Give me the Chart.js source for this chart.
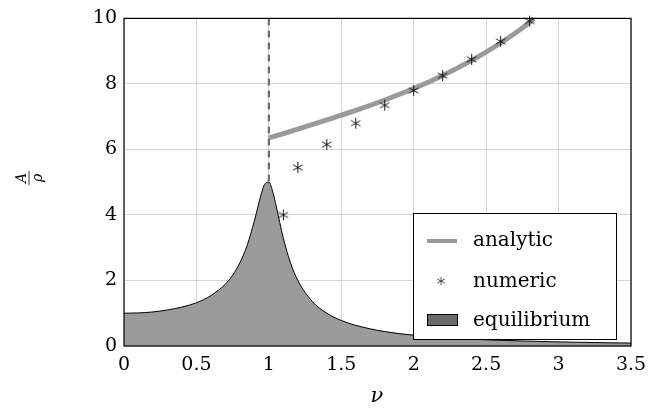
<!DOCTYPE html>
<html>
<head>
<meta charset="utf-8">
<script src="https://cdn.jsdelivr.net/npm/chart.js@4"></script>
<style>
  body { margin: 0; background: #fff; }
  #wrap { width: 669px; height: 413px; }
</style>
</head>
<body>
<div id="wrap"><canvas id="chart" width="669" height="413"></canvas></div>
<script>
// equilibrium curve
var eq_nu = [0, 0.1, 0.2, 0.3, 0.4, 0.5, 0.6, 0.7, 0.75, 0.8, 0.85, 0.9, 0.95, 0.97, 1.0,
  1.03, 1.05, 1.1, 1.15, 1.2, 1.3, 1.4, 1.5, 1.6, 1.8, 2.0, 2.25, 2.5, 3.0, 3.5];
var eq_a = [1.0, 1.01, 1.04, 1.10, 1.19, 1.32, 1.54, 1.89, 2.16, 2.54, 3.07, 3.82, 4.68, 4.93, 5.0,
  4.66, 4.28, 3.29, 2.53, 2.0, 1.36, 1.0, 0.78, 0.63, 0.44, 0.33, 0.245, 0.19, 0.125, 0.089];

// analytic branch
var an_nu = [1.0, 1.2, 1.4, 1.6, 1.8, 2.0, 2.2, 2.4, 2.6, 2.8, 2.83];
var an_a = [6.35, 6.62, 6.9, 7.19, 7.51, 7.86, 8.26, 8.72, 9.25, 9.88, 10.0];

// numeric points
var num_nu = [1.1, 1.2, 1.4, 1.6, 1.8, 2.0, 2.2, 2.4, 2.6, 2.8];
var num_a = [4.0, 5.45, 6.15, 6.8, 7.35, 7.8, 8.25, 8.75, 9.3, 9.92];

var xTicks = [0, 0.5, 1, 1.5, 2, 2.5, 3, 3.5];
var yTicks = [0, 2, 4, 6, 8, 10];

var FONT = '"DejaVu Serif", "Liberation Serif", serif';

function pts(xs, ys) {
  return xs.map(function (x, i) { return { x: x, y: ys[i] }; });
}

// six-armed asterisk marker
function makeStar(size) {
  var c = document.createElement('canvas');
  c.width = size; c.height = size;
  var g = c.getContext('2d');
  g.strokeStyle = '#000';
  g.lineWidth = 0.9;
  var r = size / 2 - 1;
  g.beginPath();
  for (var k = 0; k < 3; k++) {
    var a = Math.PI / 2 + k * Math.PI / 3;
    g.moveTo(size / 2 + r * Math.cos(a), size / 2 + r * Math.sin(a));
    g.lineTo(size / 2 - r * Math.cos(a), size / 2 - r * Math.sin(a));
  }
  g.stroke();
  return c;
}
var star = makeStar(13);

var extras = {
  id: 'extras',
  beforeDatasetsDraw: function (chart) {
    var ctx = chart.ctx, x = chart.scales.x, y = chart.scales.y;
    // dashed line at nu = 1
    ctx.save();
    ctx.strokeStyle = '#6e6e6e';
    ctx.lineWidth = 2.2;
    ctx.setLineDash([7, 5]);
    ctx.beginPath();
    ctx.moveTo(x.getPixelForValue(1), y.getPixelForValue(10));
    ctx.lineTo(x.getPixelForValue(1), y.getPixelForValue(0));
    ctx.stroke();
    ctx.restore();
  },
  afterDraw: function (chart) {
    var ctx = chart.ctx, a = chart.chartArea;
    ctx.save();
    // frame
    ctx.strokeStyle = '#000';
    ctx.lineWidth = 1.2;
    ctx.strokeRect(a.left, a.top, a.right - a.left, a.bottom - a.top);

    // legend
    var lx = 413, ly = 213, lw = 203, lh = 126;
    ctx.fillStyle = '#fff';
    ctx.fillRect(lx, ly, lw, lh);
    ctx.strokeStyle = '#000';
    ctx.lineWidth = 1;
    ctx.strokeRect(lx + 0.5, ly + 0.5, lw, lh);
    ctx.font = '20px ' + FONT;
    ctx.fillStyle = '#000';
    ctx.textBaseline = 'middle';
    ctx.fillText('analytic', lx + 60, ly + 28);
    ctx.fillText('numeric', lx + 60, ly + 69);
    ctx.fillText('equilibrium', lx + 60, ly + 108);
    ctx.strokeStyle = '#9a9a9a';
    ctx.lineWidth = 4;
    ctx.beginPath();
    ctx.moveTo(lx + 14, ly + 28);
    ctx.lineTo(lx + 44, ly + 28);
    ctx.stroke();
    ctx.drawImage(star, lx + 23, ly + 63, 10, 10);
    ctx.fillStyle = '#6a6a6a';
    ctx.fillRect(lx + 14, ly + 101, 30, 11);
    ctx.strokeStyle = '#000';
    ctx.lineWidth = 1;
    ctx.strokeRect(lx + 14.5, ly + 101.5, 30, 11);

    // axis titles
    ctx.fillStyle = '#000';
    ctx.textAlign = 'center';
    ctx.font = 'italic 21px ' + FONT;
    ctx.fillText('\u03bd', 377, 397);

    ctx.translate(30, 178);
    ctx.rotate(-Math.PI / 2);
    ctx.font = 'italic 14px ' + FONT;
    ctx.textBaseline = 'alphabetic';
    ctx.fillText('A', 0, -4);
    ctx.textBaseline = 'top';
    ctx.fillText('\u03c1', 0, 1);
    ctx.lineWidth = 0.8;
    ctx.beginPath();
    ctx.moveTo(-7, -1);
    ctx.lineTo(7, -1);
    ctx.stroke();
    ctx.restore();
  }
};

var ctxEl = document.getElementById('chart');
new Chart(ctxEl, {
  type: 'line',
  data: {
    datasets: [
      {
        label: 'numeric',
        data: pts(num_nu, num_a),
        showLine: false,
        pointStyle: star,
        pointRadius: 6,
        order: 0
      },
      {
        label: 'analytic',
        data: pts(an_nu, an_a),
        borderColor: '#9a9a9a',
        borderWidth: 5,
        pointRadius: 0,
        cubicInterpolationMode: 'monotone',
        fill: false,
        order: 1
      },
      {
        label: 'equilibrium',
        data: pts(eq_nu, eq_a),
        borderColor: '#000',
        borderWidth: 1,
        backgroundColor: '#9b9b9b',
        pointRadius: 0,
        cubicInterpolationMode: 'monotone',
        fill: 'origin',
        order: 2
      }
    ]
  },
  options: {
    responsive: false,
    animation: false,
    clip: false,
    layout: { padding: { left: 0, top: 13, right: 38, bottom: 0 } },
    plugins: { legend: { display: false }, tooltip: { enabled: false } },
    scales: {
      x: {
        type: 'linear',
        min: 0, max: 3.5,
        afterFit: function (s) { s.height = 67; },
        afterBuildTicks: function (s) { s.ticks = xTicks.map(function (v) { return { value: v }; }); },
        grid: { color: '#d6d6d6', lineWidth: 1, drawTicks: false },
        border: { display: false },
        ticks: {
          color: '#000', padding: 8, maxRotation: 0,
          font: { family: FONT, size: 19 },
          callback: function (v) { return String(v); }
        }
      },
      y: {
        min: 0, max: 10,
        afterFit: function (s) { s.width = 124; },
        afterBuildTicks: function (s) { s.ticks = yTicks.map(function (v) { return { value: v }; }); },
        grid: { color: '#d6d6d6', lineWidth: 1, drawTicks: false },
        border: { display: false },
        ticks: {
          color: '#000', padding: 7,
          font: { family: FONT, size: 19 },
          callback: function (v) { return String(v); }
        }
      }
    }
  },
  plugins: [extras]
});
</script>
</body>
</html>
